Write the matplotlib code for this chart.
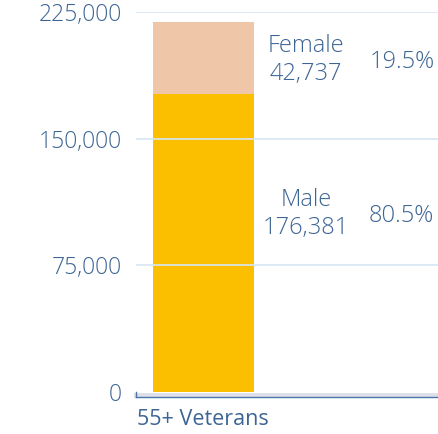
import matplotlib
matplotlib.use("Agg")
import matplotlib.pyplot as plt

categories = ["55+ Veterans"]
male = [176381]
female = [42737]
yticks = [0, 75000, 150000, 225000]

text_color = "#3d6594"
male_color = "#fbbf00"
female_color = "#f0c6a9"

plt.rcParams["font.family"] = ["Open Sans", "DejaVu Sans"]

fig = plt.figure(figsize=(4.39, 4.34), dpi=100)
ax = fig.add_axes([136 / 439, 1 - 392 / 434, 1 - 136 / 439, (392 - 12) / 434])

x = list(range(len(categories)))
ax.bar(x, male, width=0.6, color=male_color, zorder=1)
ax.bar(x, female, width=0.6, bottom=male, color=female_color, zorder=1)

# light gridlines sit on top of the bar
for yv in yticks[1:]:
    ax.axhline(yv, color="#d5e6f5", linewidth=1.2, zorder=3)

total = male[0] + female[0]
ax.text(0.61, 196500, f"Female\n{female[0]:,}", ha="center", va="center",
        color=text_color, fontsize=17, fontweight="light", linespacing=1.25)
ax.text(0.99, 195500, f"{female[0] / total * 100:.1f}%", ha="left", va="center",
        color=text_color, fontsize=17, fontweight="light")
ax.text(0.61, 105500, f"Male\n{male[0]:,}", ha="center", va="center",
        color=text_color, fontsize=17, fontweight="light", linespacing=1.25)
ax.text(0.98, 104500, f"{male[0] / total * 100:.1f}%", ha="left", va="center",
        color=text_color, fontsize=17, fontweight="light")

ax.set_xlim(-0.4, 1.4)
ax.set_ylim(0, 225000)
ax.set_yticks(yticks)
ax.set_yticklabels([f"{v:,}" for v in yticks], fontweight="light")
ax.set_xticks(x)
ax.set_xticklabels(categories, fontweight="light")
ax.tick_params(axis="y", length=0, pad=10, labelsize=16.5, labelcolor=text_color)
ax.tick_params(axis="x", length=0, pad=10, labelsize=15.5, labelcolor=text_color)

for s in ["top", "right", "left"]:
    ax.spines[s].set_visible(False)
ax.spines["bottom"].set_color("#dde0eb")
ax.spines["bottom"].set_linewidth(3.5)
ax.spines["bottom"].set_position(("outward", 2))
ax.plot([0, 1], [-0.0125, -0.0125], transform=ax.transAxes, color="#4f74a6",
        linewidth=1, clip_on=False, zorder=4)
ax.plot([0, 0], [-0.0125, 0.0], transform=ax.transAxes, color="#4f74a6",
        linewidth=1, clip_on=False, zorder=4)

fig.savefig("out.png", dpi=100)
